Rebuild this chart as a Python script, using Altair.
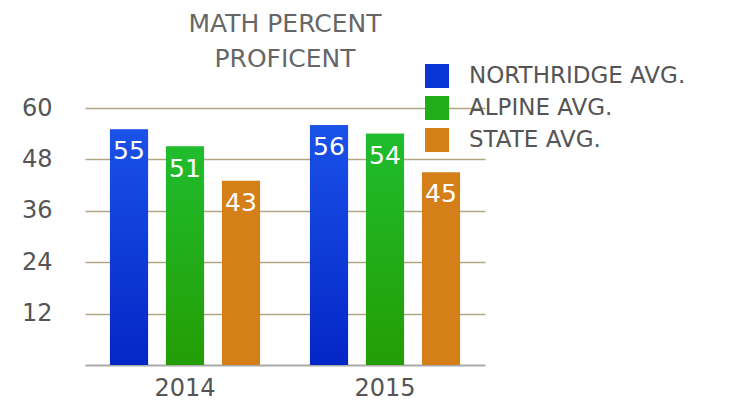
import altair as alt
import pandas as pd

years = ["2014", "2014", "2014", "2015", "2015", "2015"]
series = ["Northridge Avg.", "Alpine Avg.", "State Avg.",
          "Northridge Avg.", "Alpine Avg.", "State Avg."]
values = [55, 51, 43, 56, 54, 45]
series_order = ["Northridge Avg.", "Alpine Avg.", "State Avg."]
series_colors = ["#0a36d8", "#1fae1a", "#d47f17"]
y_ticks = [12, 24, 36, 48, 60]

df = pd.DataFrame({"year": years, "series": series, "value": values})

label_expr = "upper(datum.label)"

FONT = "DejaVu Sans"

x_enc = alt.X("year:N", title=None,
              scale=alt.Scale(paddingInner=0, paddingOuter=0),
              axis=alt.Axis(labelAngle=0, labelFontSize=24, labelColor="#555555",
                            labelFont=FONT, labelPadding=11, ticks=False,
                            domainColor="#aaaaaa", domainWidth=2, grid=False))
xo_enc = alt.XOffset("series:N", sort=series_order,
                     scale=alt.Scale(domain=series_order, paddingInner=0.32, paddingOuter=0.446))
y_enc = alt.Y("value:Q", title=None,
              scale=alt.Scale(domain=[0, 60], nice=False),
              axis=alt.Axis(values=y_ticks, labelFontSize=24, labelColor="#555555",
                            labelFont=FONT, labelPadding=33, ticks=False, domain=False,
                            grid=True, gridColor="#b0a684", gridWidth=1.5))

base = alt.Chart(df)

bars = base.mark_bar().encode(
    x=x_enc, xOffset=xo_enc, y=y_enc,
    color=alt.Color("series:N", sort=series_order,
                    scale=alt.Scale(domain=series_order, range=series_colors),
                    legend=alt.Legend(title=None, orient="none", legendX=340, legendY=-44,
                                      symbolType="square", symbolSize=576,
                                      symbolStrokeWidth=0, symbolOpacity=1,
                                      labelFontSize=23, labelColor="#555555", labelFont=FONT,
                                      labelOffset=20, rowPadding=8, labelLimit=0,
                                      labelExpr=label_expr))
)

grad_blue = alt.Gradient(gradient="linear", x1=0, x2=0, y1=0, y2=1,
                         stops=[alt.GradientStop(color="#1a52e8", offset=0),
                                alt.GradientStop(color="#0426c6", offset=1)])
grad_green = alt.Gradient(gradient="linear", x1=0, x2=0, y1=0, y2=1,
                          stops=[alt.GradientStop(color="#1fbd2e", offset=0),
                                 alt.GradientStop(color="#249d04", offset=1)])

blue_layer = base.transform_filter(alt.datum.series == "Northridge Avg.").mark_bar(
    fill=grad_blue).encode(x=x_enc, xOffset=xo_enc, y=y_enc)
green_layer = base.transform_filter(alt.datum.series == "Alpine Avg.").mark_bar(
    fill=grad_green).encode(x=x_enc, xOffset=xo_enc, y=y_enc)

labels = base.mark_text(color="white", fontSize=25, font=FONT, baseline="alphabetic",
                        dy=30).encode(
    x=x_enc, xOffset=xo_enc, y=y_enc, text=alt.Text("value:Q"))

chart = alt.layer(bars, blue_layer, green_layer, labels).properties(
    width=400, height=257,
    padding={"left": 77, "top": 100, "right": 241, "bottom": 37},
    autosize=alt.AutoSizeParams(type="none"),
    title=alt.TitleParams(["MATH PERCENT", "PROFICENT"], fontSize=25, font=FONT,
                          fontWeight="normal", color="#666666", anchor="middle",
                          frame="group", lineHeight=35, offset=-8),
).configure_view(stroke=None)

chart.save("out.html", embed_options={"renderer": "svg", "actions": False})
